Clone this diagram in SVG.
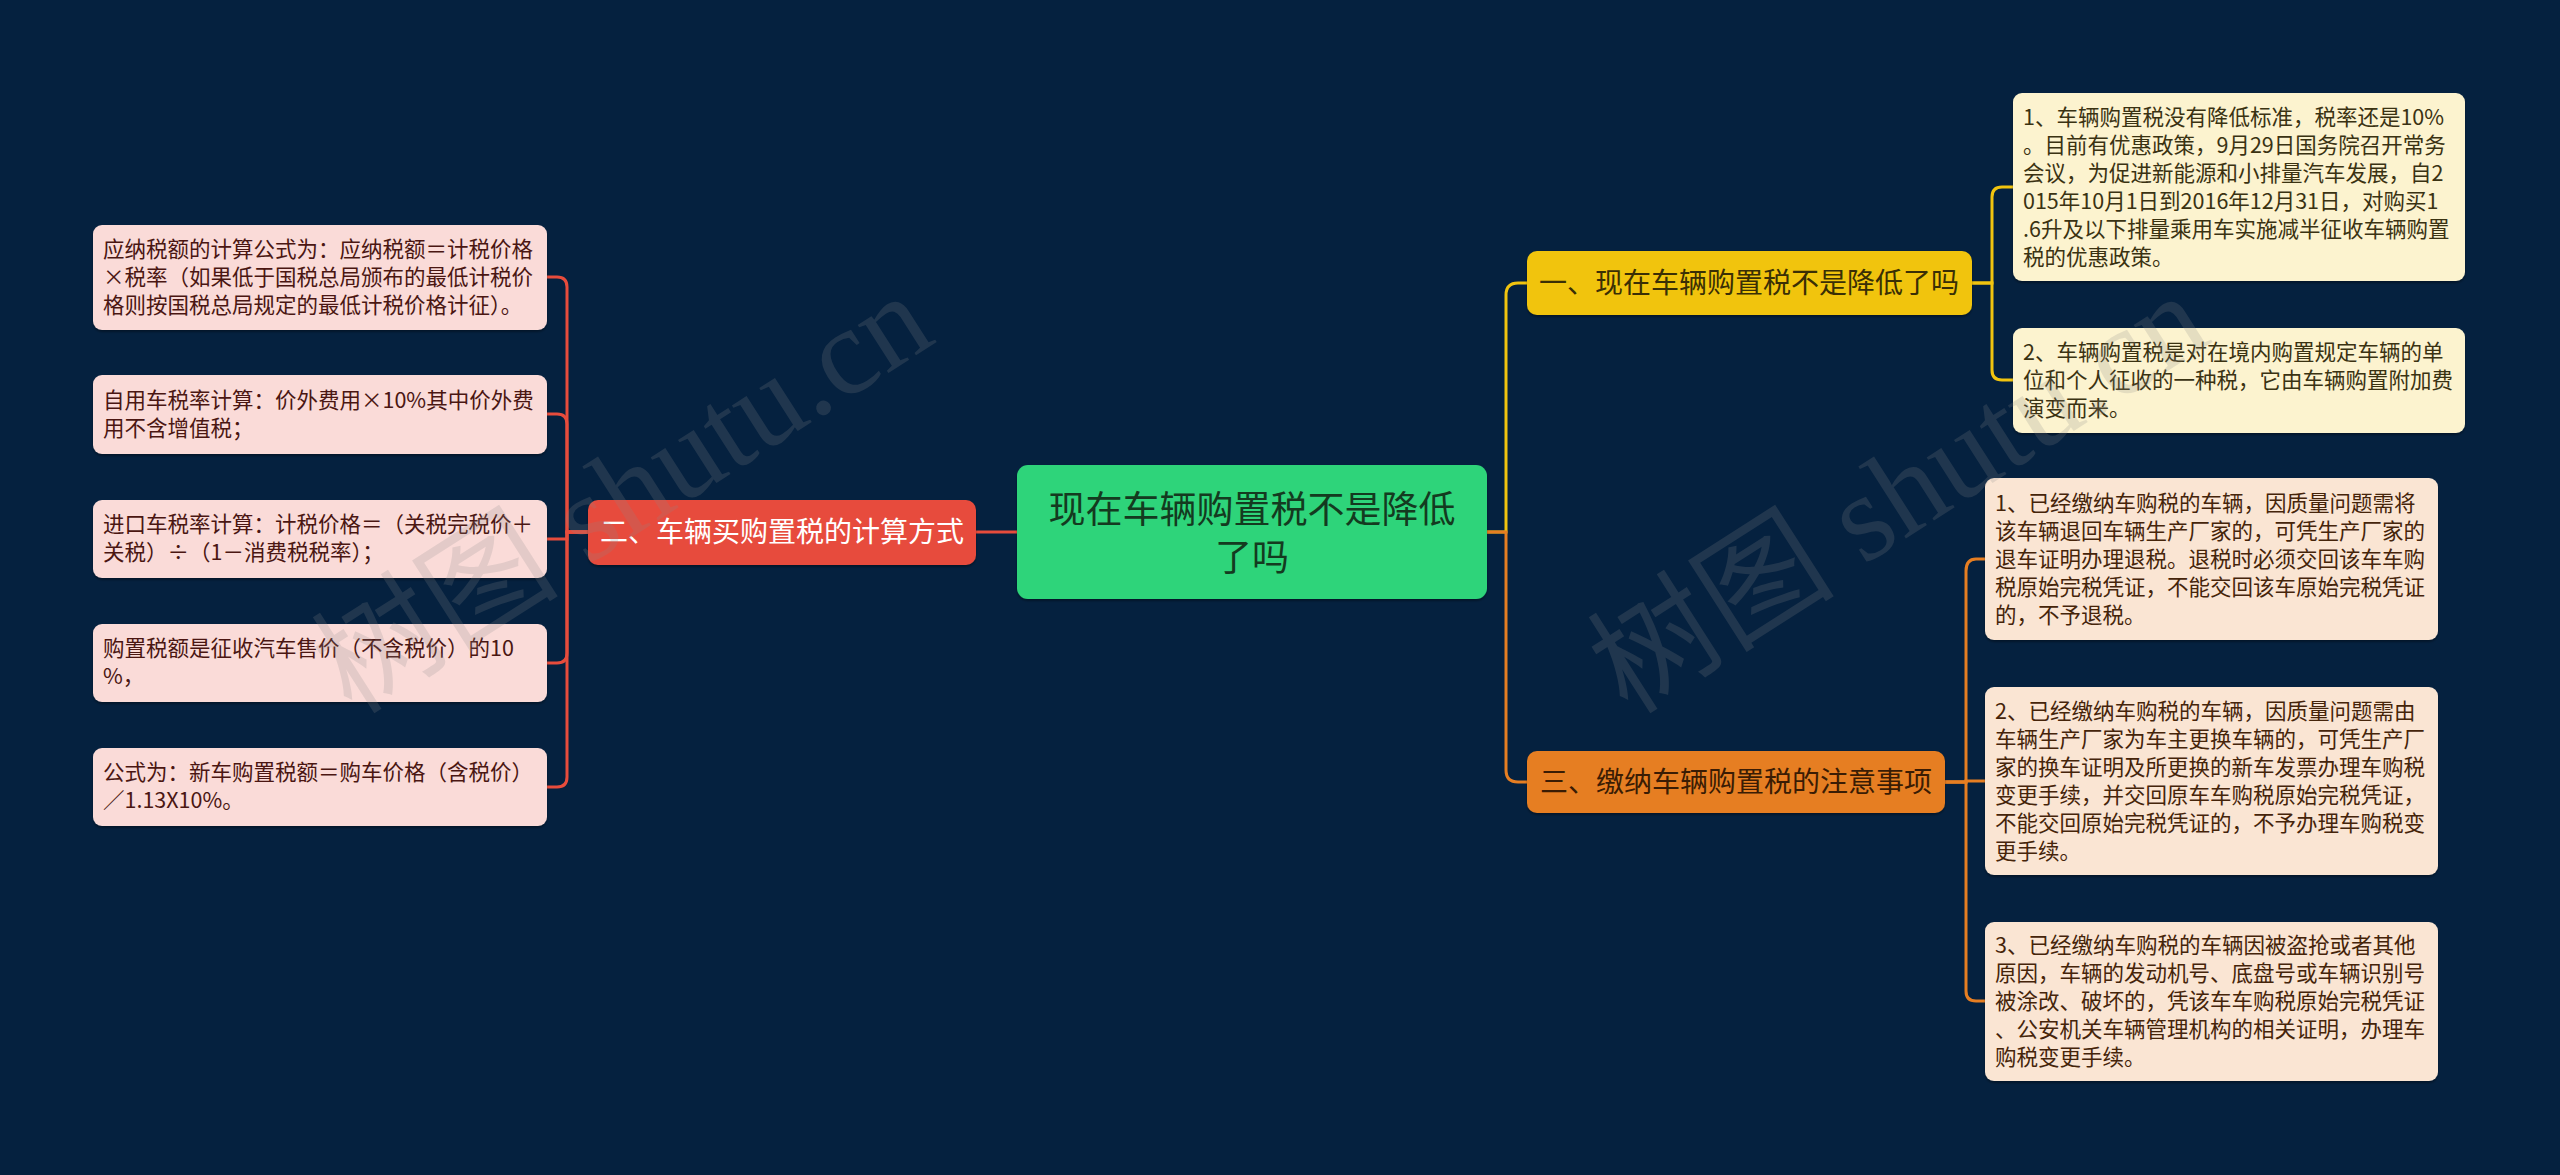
<svg xmlns="http://www.w3.org/2000/svg" width="2560" height="1175" viewBox="0 0 2560 1175">
<defs>
<style>
.t{font-family:"Noto Sans CJK SC","Noto Sans",sans-serif;}
.leaf{font-size:21.5px;}
.lf-red{fill:#fadbd8;}
.lf-yel{fill:#fcf3cf;}
.lf-org{fill:#fae5d3;}
.tx-red{fill:#4a1612;}
.tx-yel{fill:#3a3212;}
.tx-org{fill:#45240a;}
.br{font-size:28px;}
.c-red{fill:none;stroke:#e74c3c;stroke-width:3;}
.c-yel{fill:none;stroke:#f1c40f;stroke-width:3;}
.c-org{fill:none;stroke:#e67e22;stroke-width:3;}
.wm{font-family:"Liberation Serif","Noto Sans CJK SC",serif;font-size:124px;fill:#8a8a8a;opacity:0.2;}
</style>
<filter id="sh" x="-5%" y="-10%" width="110%" height="130%">
<feDropShadow dx="0" dy="2" stdDeviation="1.2" flood-color="#000" flood-opacity="0.35"/>
</filter>
</defs>
<rect width="2560" height="1175" fill="#05213f"/>

<g id="connectors">
<path class="c-red" d="M1017 532 H976"/>
<path class="c-red" d="M588 532 H567 V287 Q567 277 557 277 H547"/>
<path class="c-red" d="M588 532 H567 V424 Q567 414 557 414 H547"/>
<path class="c-red" d="M588 532 H567 V539 H547"/>
<path class="c-red" d="M588 532 H567 V653 Q567 663 557 663 H547"/>
<path class="c-red" d="M588 532 H567 V777 Q567 787 557 787 H547"/>
<path class="c-yel" d="M1487 532 H1506 V295 Q1506 283 1518 283 H1527"/>
<path class="c-org" d="M1487 532 H1506 V770 Q1506 782 1518 782 H1527"/>
<path class="c-yel" d="M1972 283 H1992 V197 Q1992 187 2002 187 H2013"/>
<path class="c-yel" d="M1972 283 H1992 V370 Q1992 380 2002 380 H2013"/>
<path class="c-org" d="M1945 782 H1966 V571 Q1966 559 1976 559 H1985"/>
<path class="c-org" d="M1945 782 H1966 V781 H1985"/>
<path class="c-org" d="M1945 782 H1966 V991 Q1966 1001 1976 1001 H1985"/>
</g>

<g id="root">
<rect x="1017" y="465" width="470" height="134" rx="11" fill="#2fd47a" filter="url(#sh)"/>
<text class="t" x="1252" y="523" font-size="37" fill="#143a20" text-anchor="middle">现在车辆购置税不是降低</text>
<text class="t" x="1252" y="571" font-size="37" fill="#143a20" text-anchor="middle">了吗</text>
</g>

<g id="branch-2">
<rect x="588" y="500" width="388" height="65" rx="10" fill="#e74c3c" filter="url(#sh)"/>
<text class="t br" x="782" y="542" fill="#ffffff" text-anchor="middle">二、车辆买购置税的计算方式</text>
</g>

<g id="branch-1">
<rect x="1527" y="251" width="445" height="64" rx="10" fill="#f1c40f" filter="url(#sh)"/>
<text class="t br" x="1749" y="293" fill="#3a2f05" text-anchor="middle">一、现在车辆购置税不是降低了吗</text>
</g>

<g id="branch-3">
<rect x="1527" y="751" width="418" height="62" rx="10" fill="#e67e22" filter="url(#sh)"/>
<text class="t br" x="1736" y="792" fill="#3a1c04" text-anchor="middle">三、缴纳车辆购置税的注意事项</text>
</g>

<g id="leaf-2-1">
<rect class="lf-red" x="93" y="225" width="454" height="105" rx="9" filter="url(#sh)"/>
<text class="t leaf tx-red" x="103"><tspan x="103" y="257">应纳税额的计算公式为：应纳税额＝计税价格</tspan><tspan x="103" y="285">×税率（如果低于国税总局颁布的最低计税价</tspan><tspan x="103" y="313">格则按国税总局规定的最低计税价格计征）。</tspan></text>
</g>
<g id="leaf-2-2">
<rect class="lf-red" x="93" y="375" width="454" height="79" rx="9" filter="url(#sh)"/>
<text class="t leaf tx-red"><tspan x="103" y="408">自用车税率计算：价外费用×10%其中价外费</tspan><tspan x="103" y="436">用不含增值税；</tspan></text>
</g>
<g id="leaf-2-3">
<rect class="lf-red" x="93" y="500" width="454" height="78" rx="9" filter="url(#sh)"/>
<text class="t leaf tx-red"><tspan x="103" y="532">进口车税率计算：计税价格＝（关税完税价＋</tspan><tspan x="103" y="560">关税）÷（1－消费税税率）；</tspan></text>
</g>
<g id="leaf-2-4">
<rect class="lf-red" x="93" y="624" width="454" height="78" rx="9" filter="url(#sh)"/>
<text class="t leaf tx-red"><tspan x="103" y="656">购置税额是征收汽车售价（不含税价）的10</tspan><tspan x="103" y="684">%，</tspan></text>
</g>
<g id="leaf-2-5">
<rect class="lf-red" x="93" y="748" width="454" height="78" rx="9" filter="url(#sh)"/>
<text class="t leaf tx-red"><tspan x="103" y="780">公式为：新车购置税额＝购车价格（含税价）</tspan><tspan x="103" y="808">／1.13X10%。</tspan></text>
</g>

<g id="leaf-1-1">
<rect class="lf-yel" x="2013" y="93" width="452" height="188" rx="9" filter="url(#sh)"/>
<text class="t leaf tx-yel"><tspan x="2023" y="125">1、车辆购置税没有降低标准，税率还是10%</tspan><tspan x="2023" y="153">。目前有优惠政策，9月29日国务院召开常务</tspan><tspan x="2023" y="181">会议，为促进新能源和小排量汽车发展，自2</tspan><tspan x="2023" y="209">015年10月1日到2016年12月31日，对购买1</tspan><tspan x="2023" y="237">.6升及以下排量乘用车实施减半征收车辆购置</tspan><tspan x="2023" y="265">税的优惠政策。</tspan></text>
</g>
<g id="leaf-1-2">
<rect class="lf-yel" x="2013" y="328" width="452" height="105" rx="9" filter="url(#sh)"/>
<text class="t leaf tx-yel"><tspan x="2023" y="360">2、车辆购置税是对在境内购置规定车辆的单</tspan><tspan x="2023" y="388">位和个人征收的一种税，它由车辆购置附加费</tspan><tspan x="2023" y="416">演变而来。</tspan></text>
</g>

<g id="leaf-3-1">
<rect class="lf-org" x="1985" y="478" width="453" height="162" rx="9" filter="url(#sh)"/>
<text class="t leaf tx-org"><tspan x="1995" y="511">1、已经缴纳车购税的车辆，因质量问题需将</tspan><tspan x="1995" y="539">该车辆退回车辆生产厂家的，可凭生产厂家的</tspan><tspan x="1995" y="567">退车证明办理退税。退税时必须交回该车车购</tspan><tspan x="1995" y="595">税原始完税凭证，不能交回该车原始完税凭证</tspan><tspan x="1995" y="623">的，不予退税。</tspan></text>
</g>
<g id="leaf-3-2">
<rect class="lf-org" x="1985" y="687" width="453" height="188" rx="9" filter="url(#sh)"/>
<text class="t leaf tx-org"><tspan x="1995" y="719">2、已经缴纳车购税的车辆，因质量问题需由</tspan><tspan x="1995" y="747">车辆生产厂家为车主更换车辆的，可凭生产厂</tspan><tspan x="1995" y="775">家的换车证明及所更换的新车发票办理车购税</tspan><tspan x="1995" y="803">变更手续，并交回原车车购税原始完税凭证，</tspan><tspan x="1995" y="831">不能交回原始完税凭证的，不予办理车购税变</tspan><tspan x="1995" y="859">更手续。</tspan></text>
</g>
<g id="leaf-3-3">
<rect class="lf-org" x="1985" y="922" width="453" height="159" rx="9" filter="url(#sh)"/>
<text class="t leaf tx-org"><tspan x="1995" y="953">3、已经缴纳车购税的车辆因被盗抢或者其他</tspan><tspan x="1995" y="981">原因，车辆的发动机号、底盘号或车辆识别号</tspan><tspan x="1995" y="1009">被涂改、破坏的，凭该车车购税原始完税凭证</tspan><tspan x="1995" y="1037">、公安机关车辆管理机构的相关证明，办理车</tspan><tspan x="1995" y="1065">购税变更手续。</tspan></text>
</g>

<g id="watermarks">
<text class="wm" transform="translate(352 716) rotate(-32.6)">树图 shutu.cn</text>
<text class="wm" transform="translate(1628 716) rotate(-32.6)">树图 shutu.cn</text>
</g>
</svg>
